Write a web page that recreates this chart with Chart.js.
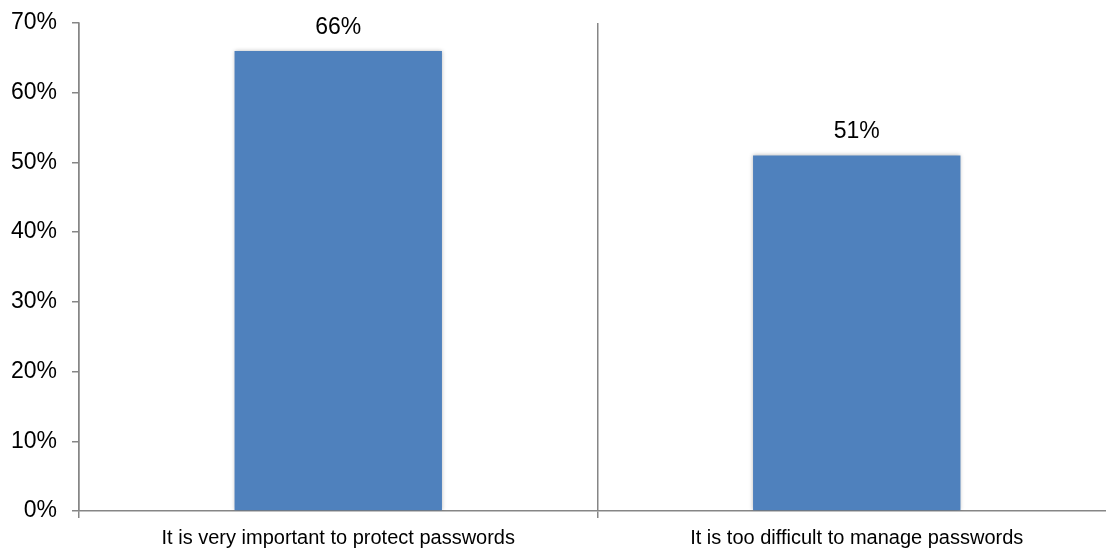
<!DOCTYPE html>
<html>
<head>
<meta charset="utf-8">
<script src="https://cdn.jsdelivr.net/npm/chart.js@4/dist/chart.umd.min.js"></script>
<style>
  html, body { margin: 0; padding: 0; background: #fff; overflow: hidden; }
  #wrap { width: 1116px; height: 550px; }
</style>
</head>
<body>
<div id="wrap"><canvas id="barChart" width="1116" height="550"></canvas></div>
<script>
const categories = ["It is very important to protect passwords", "It is too difficult to manage passwords"];
const shares = [66, 51];
const yTicks = [0, 10, 20, 30, 40, 50, 60, 70];

const axisGray = "#868686";

// value labels above each bar, plus a soft shadow behind the bars
const barExtras = {
  id: "barExtras",
  beforeDatasetsDraw(chart) {
    const ctx = chart.ctx;
    ctx.save();
    ctx.shadowColor = "rgba(0,0,0,0.28)";
    ctx.shadowBlur = 4;
  },
  afterDatasetsDraw(chart) {
    const ctx = chart.ctx;
    ctx.restore();
    ctx.save();
    ctx.font = "23px 'Liberation Sans', Arial, sans-serif";
    ctx.fillStyle = "#000";
    ctx.textAlign = "center";
    ctx.textBaseline = "alphabetic";
    const meta = chart.getDatasetMeta(0);
    meta.data.forEach((bar, i) => {
      ctx.fillText(shares[i] + "%", bar.x, bar.y - 17);
    });
    ctx.restore();
  }
};

const ctx = document.getElementById("barChart").getContext("2d");
new Chart(ctx, {
  type: "bar",
  data: {
    labels: categories,
    datasets: [{
      data: shares,
      backgroundColor: "#4F81BD",
      borderWidth: 0,
      barPercentage: 0.4,
      categoryPercentage: 1
    }]
  },
  options: {
    responsive: false,
    maintainAspectRatio: false,
    animation: false,
    layout: { padding: { top: 23, left: 10, right: 0, bottom: 0 } },
    plugins: {
      legend: { display: false },
      tooltip: { enabled: false }
    },
    scales: {
      x: {
        offset: true,
        afterFit(scale) { scale.height = 39; },
        grid: {
          offset: true,
          color: axisGray,
          lineWidth: 1.5,
          drawTicks: true,
          tickLength: 7
        },
        border: { display: true, color: axisGray, width: 1.5 },
        ticks: {
          padding: 8,
          color: "#000",
          font: { family: "'Liberation Sans', Arial, sans-serif", size: 20 },
          maxRotation: 0
        }
      },
      y: {
        min: 0,
        max: 70,
        afterFit(scale) {
          scale.width = 69;
          scale.paddingTop = 0;
          scale.paddingBottom = 0;
        },
        afterBuildTicks(scale) {
          scale.ticks = yTicks.map(v => ({ value: v }));
        },
        grid: {
          drawOnChartArea: false,
          drawTicks: true,
          tickLength: 7,
          color: axisGray,
          lineWidth: 1.5
        },
        border: { display: true, color: axisGray, width: 1.5 },
        ticks: {
          padding: 15,
          color: "#000",
          font: { family: "'Liberation Sans', Arial, sans-serif", size: 23 },
          callback: v => v + "%"
        }
      }
    }
  },
  plugins: [barExtras]
});
</script>
</body>
</html>
